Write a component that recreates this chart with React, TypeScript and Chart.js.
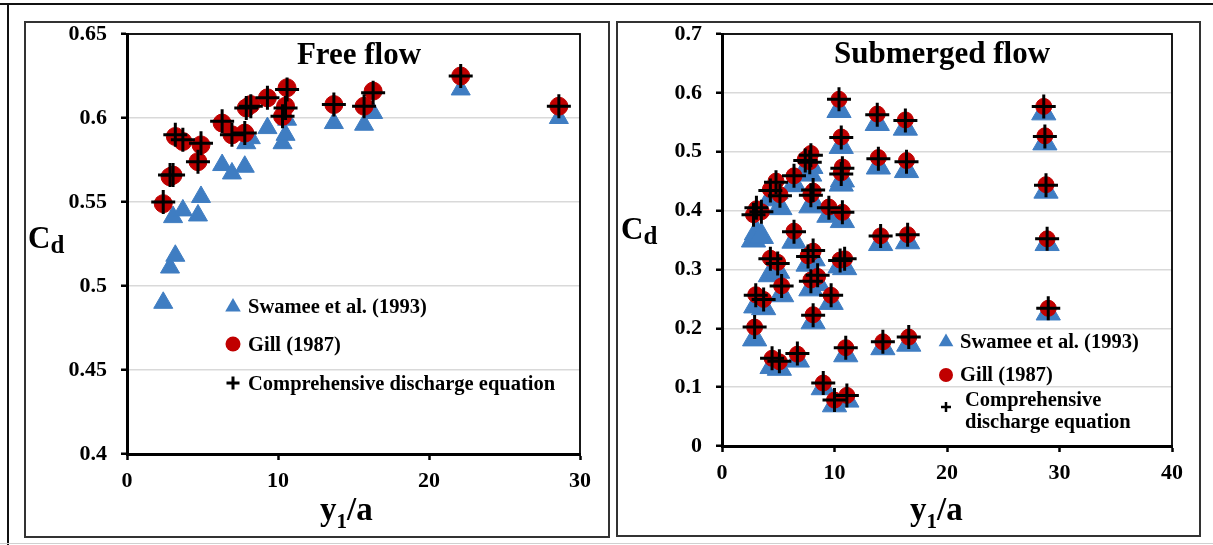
import React, { useEffect, useRef } from 'react';
import { Chart, registerables } from 'chart.js';

Chart.register(...registerables);

// ---- Free flow: y1/a and discharge coefficients ----
const FREE_RATIO = [2.4, 2.85, 3.05, 3.2, 3.7, 4.7, 4.9, 6.3, 6.95, 7.8, 7.9, 8.2, 9.3, 10.3, 10.5, 10.6, 13.7, 15.7, 16.3, 22.1, 28.6];
const FREE_SWAMEE = [0.49, 0.511, 0.541, 0.518, 0.545, 0.542, 0.553, 0.572, 0.567, 0.571, 0.585, 0.588, 0.594, 0.585, 0.59, 0.599, 0.597, 0.596, 0.603, 0.617, 0.6];
const FREE_GILL = [0.549, 0.565, 0.566, 0.589, 0.586, 0.574, 0.584, 0.597, 0.59, 0.591, 0.606, 0.608, 0.612, 0.601, 0.607, 0.618, 0.608, 0.607, 0.616, 0.625, 0.607];
const FREE_COMP = [0.55, 0.566, 0.566, 0.59, 0.587, 0.574, 0.585, 0.598, 0.59, 0.591, 0.606, 0.607, 0.612, 0.601, 0.606, 0.617, 0.608, 0.607, 0.615, 0.625, 0.607];

// ---- Submerged flow: y1/a and discharge coefficients ----
const SUB_RATIO = [2.8, 3.06, 3.5, 4.3, 4.8, 5.15, 6.4, 7.4, 7.9, 7.8, 8.1, 7.9, 9.5, 10.7, 10.4, 10.6, 10.7, 10.6, 13.8, 16.3, 13.9, 16.4, 6.4, 4.3, 4.95, 5.3, 3.0, 3.7, 2.9, 4.45, 5.1, 6.7, 7.65, 8.1, 7.9, 8.5, 9.7, 8.1, 10.5, 10.9, 11.0, 9.0, 10.0, 11.1, 14.1, 16.5, 14.3, 16.6, 28.6, 28.7, 28.8, 28.9, 29.0];
const SUB_SWAMEE = [0.35, 0.362, 0.356, 0.42, 0.432, 0.405, 0.444, 0.468, 0.475, 0.462, 0.412, 0.408, 0.392, 0.383, 0.57, 0.509, 0.452, 0.445, 0.548, 0.54, 0.474, 0.468, 0.348, 0.291, 0.297, 0.257, 0.238, 0.235, 0.182, 0.135, 0.132, 0.146, 0.309, 0.318, 0.267, 0.276, 0.244, 0.211, 0.306, 0.303, 0.155, 0.099, 0.07, 0.078, 0.344, 0.347, 0.167, 0.173, 0.566, 0.515, 0.433, 0.344, 0.226];
const SUB_GILL = [0.393, 0.403, 0.398, 0.436, 0.45, 0.427, 0.459, 0.487, 0.497, 0.483, 0.433, 0.427, 0.406, 0.397, 0.589, 0.525, 0.474, 0.464, 0.564, 0.554, 0.49, 0.485, 0.365, 0.319, 0.312, 0.272, 0.257, 0.249, 0.202, 0.149, 0.143, 0.156, 0.323, 0.331, 0.282, 0.288, 0.256, 0.223, 0.316, 0.318, 0.167, 0.107, 0.078, 0.086, 0.357, 0.359, 0.177, 0.185, 0.577, 0.527, 0.444, 0.352, 0.234];
const SUB_COMP = [0.393, 0.405, 0.398, 0.434, 0.448, 0.425, 0.459, 0.485, 0.494, 0.482, 0.435, 0.426, 0.405, 0.397, 0.589, 0.524, 0.472, 0.462, 0.563, 0.553, 0.488, 0.483, 0.364, 0.318, 0.31, 0.272, 0.256, 0.249, 0.202, 0.149, 0.144, 0.157, 0.322, 0.332, 0.28, 0.29, 0.256, 0.222, 0.315, 0.318, 0.167, 0.107, 0.078, 0.086, 0.357, 0.359, 0.177, 0.185, 0.577, 0.526, 0.443, 0.352, 0.234];

// ---- Axis ticks ----
const FREE_X_TICKS = [0, 10, 20, 30];
const FREE_Y_TICKS = [0.4, 0.45, 0.5, 0.55, 0.6, 0.65];
const SUB_X_TICKS = [0, 10, 20, 30, 40];
const SUB_Y_TICKS = [0, 0.1, 0.2, 0.3, 0.4, 0.5, 0.6, 0.7];

// ---- Series names ----
const SERIES_NAMES = ['Swamee et al. (1993)', 'Gill (1987)', 'Comprehensive discharge equation'];
const COMP_NAME_LINES = ['Comprehensive', 'discharge equation'];

const BLUE = '#3F7DC2';
const RED = '#C00000';
const SERIF = "'Liberation Serif', 'Times New Roman', serif";

type LegendText = { text: string; x: number; y: number };

type PanelSpec = {
  left: number;
  width: number;
  height: number;
  area: { left: number; top: number; right: number; bottom: number };
  title: string;
  titleX: number;
  titleY: number;
  ratio: number[];
  swamee: number[];
  gill: number[];
  comp: number[];
  xTicks: number[];
  yTicks: number[];
  triR: number;
  circR: number;
  crossR: number;
  cdX: number;
  cdY: number;
  y1aX: number;
  y1aY: number;
  legendMarkerX: number;
  legendMarkerY: number[];
  legendSizes: { tri: number; circ: number; cross: number; crossW: number };
  legendTexts: LegendText[];
};

const PAD_LEFT = 10;
const PAD_BOTTOM = 10;

function bold(size: number) {
  return `bold ${size}px ${SERIF}`;
}

function drawPlotFrame(chart: Chart) {
  const ctx = chart.ctx;
  const a = chart.chartArea;
  ctx.save();
  // thin frame around the plotting region
  ctx.strokeStyle = '#000';
  ctx.lineWidth = 1.8;
  ctx.strokeRect(a.left, a.top, a.right - a.left, a.bottom - a.top);
  ctx.restore();
}

function drawTexts(chart: Chart, spec: PanelSpec) {
  const ctx = chart.ctx;
  ctx.save();
  ctx.fillStyle = '#000';
  ctx.textBaseline = 'alphabetic';

  // panel title
  ctx.font = bold(31);
  ctx.textAlign = 'center';
  ctx.fillText(spec.title, spec.titleX, spec.titleY);

  // y-axis label C with subscript d
  ctx.textAlign = 'left';
  ctx.font = bold(31);
  ctx.fillText('C', spec.cdX, spec.cdY);
  const cw = ctx.measureText('C').width;
  ctx.font = bold(25);
  ctx.fillText('d', spec.cdX + cw, spec.cdY + 5);

  // x-axis label y with subscript 1, over a
  ctx.font = bold(33);
  ctx.fillText('y', spec.y1aX, spec.y1aY);
  let x = spec.y1aX + ctx.measureText('y').width;
  ctx.font = bold(21);
  ctx.fillText('1', x, spec.y1aY + 8);
  x += ctx.measureText('1').width;
  ctx.font = bold(33);
  ctx.fillText('/a', x, spec.y1aY);

  // legend markers
  const mx = spec.legendMarkerX;
  const [ty, cy, ky] = spec.legendMarkerY;
  const s = spec.legendSizes;
  ctx.fillStyle = BLUE;
  ctx.beginPath();
  ctx.moveTo(mx, ty - s.tri);
  ctx.lineTo(mx + s.tri * 0.866, ty + s.tri * 0.5);
  ctx.lineTo(mx - s.tri * 0.866, ty + s.tri * 0.5);
  ctx.closePath();
  ctx.fill();
  ctx.fillStyle = RED;
  ctx.beginPath();
  ctx.arc(mx, cy, s.circ, 0, Math.PI * 2);
  ctx.fill();
  ctx.strokeStyle = '#000';
  ctx.lineWidth = s.crossW;
  ctx.beginPath();
  ctx.moveTo(mx - s.cross, ky);
  ctx.lineTo(mx + s.cross, ky);
  ctx.moveTo(mx, ky - s.cross);
  ctx.lineTo(mx, ky + s.cross);
  ctx.stroke();

  // legend texts
  ctx.fillStyle = '#000';
  ctx.font = bold(20.5);
  for (const t of spec.legendTexts) ctx.fillText(t.text, t.x, t.y);
  ctx.restore();
}

function buildConfig(spec: PanelSpec): any {
  const tickFont = { family: SERIF, size: 22, weight: 'bold' as const };
  const toPoints = (ys: number[]) => spec.ratio.map((x, i) => ({ x, y: ys[i] }));
  return {
    type: 'scatter',
    data: {
      datasets: [
        {
          label: SERIES_NAMES[0],
          data: toPoints(spec.swamee),
          pointStyle: 'triangle',
          pointRadius: spec.triR,
          backgroundColor: BLUE,
          borderColor: BLUE,
          borderWidth: 1,
          order: 3,
          clip: false,
        },
        {
          label: SERIES_NAMES[1],
          data: toPoints(spec.gill),
          pointStyle: 'circle',
          pointRadius: spec.circR,
          backgroundColor: RED,
          borderColor: RED,
          borderWidth: 1,
          order: 2,
          clip: false,
        },
        {
          label: SERIES_NAMES[2],
          data: toPoints(spec.comp),
          pointStyle: 'cross',
          pointRadius: spec.crossR,
          backgroundColor: '#000',
          borderColor: '#000',
          borderWidth: 3,
          order: 1,
          clip: false,
        },
      ],
    },
    options: {
      animation: false,
      responsive: false,
      events: [],
      layout: {
        padding: {
          left: PAD_LEFT,
          top: spec.area.top,
          right: spec.width - spec.area.right,
          bottom: PAD_BOTTOM,
        },
      },
      plugins: { legend: { display: false }, tooltip: { enabled: false } },
      scales: {
        x: {
          type: 'linear',
          min: spec.xTicks[0],
          max: spec.xTicks[spec.xTicks.length - 1],
          afterBuildTicks: (s: any) => {
            s.ticks = spec.xTicks.map((v) => ({ value: v }));
          },
          afterFit: (s: any) => {
            s.height = spec.height - spec.area.bottom - PAD_BOTTOM;
          },
          grid: { drawOnChartArea: false, tickLength: 6, tickColor: '#000', tickWidth: 2.5 },
          border: { color: '#000', width: 3 },
          ticks: { font: tickFont, color: '#000', padding: 8, maxRotation: 0, callback: (v: number) => String(v) },
        },
        y: {
          type: 'linear',
          min: spec.yTicks[0],
          max: spec.yTicks[spec.yTicks.length - 1],
          afterBuildTicks: (s: any) => {
            s.ticks = spec.yTicks.map((v) => ({ value: v }));
          },
          afterFit: (s: any) => {
            s.width = spec.area.left - PAD_LEFT;
          },
          grid: { color: '#d9d9d9', lineWidth: 1.5, tickLength: 6, tickColor: '#000', tickWidth: 2.5 },
          border: { color: '#000', width: 3 },
          ticks: { font: tickFont, color: '#000', padding: 14, callback: (v: number) => String(v) },
        },
      },
    },
    plugins: [
      {
        id: 'panelDecor',
        beforeDatasetsDraw: (chart: Chart) => drawPlotFrame(chart),
        afterDraw: (chart: Chart) => drawTexts(chart, spec),
      },
    ],
  };
}

const FREE_PANEL: PanelSpec = {
  left: 0,
  width: 612,
  height: 545,
  area: { left: 127, top: 34, right: 580, bottom: 454 },
  title: 'Free flow',
  titleX: 359,
  titleY: 64,
  ratio: FREE_RATIO,
  swamee: FREE_SWAMEE,
  gill: FREE_GILL,
  comp: FREE_COMP,
  xTicks: FREE_X_TICKS,
  yTicks: FREE_Y_TICKS,
  triR: 11,
  circR: 9,
  crossR: 12,
  cdX: 28,
  cdY: 248,
  y1aX: 320,
  y1aY: 520,
  legendMarkerX: 233,
  legendMarkerY: [307, 344, 383],
  legendSizes: { tri: 9, circ: 7.5, cross: 6.5, crossW: 3 },
  legendTexts: [
    { text: SERIES_NAMES[0], x: 248, y: 313 },
    { text: SERIES_NAMES[1], x: 248, y: 351 },
    { text: SERIES_NAMES[2], x: 248, y: 390 },
  ],
};

const SUB_OFFSET = 612;
const SUB_PANEL: PanelSpec = {
  left: SUB_OFFSET,
  width: 601,
  height: 545,
  area: { left: 110, top: 34, right: 560, bottom: 446 },
  title: 'Submerged flow',
  titleX: 942 - SUB_OFFSET,
  titleY: 63,
  ratio: SUB_RATIO,
  swamee: SUB_SWAMEE,
  gill: SUB_GILL,
  comp: SUB_COMP,
  xTicks: SUB_X_TICKS,
  yTicks: SUB_Y_TICKS,
  triR: 14,
  circR: 8,
  crossR: 12,
  cdX: 621 - SUB_OFFSET,
  cdY: 239,
  y1aX: 910 - SUB_OFFSET,
  y1aY: 520,
  legendMarkerX: 946 - SUB_OFFSET,
  legendMarkerY: [342, 375, 407],
  legendSizes: { tri: 8.5, circ: 7, cross: 5, crossW: 2.5 },
  legendTexts: [
    { text: SERIES_NAMES[0], x: 960 - SUB_OFFSET, y: 348 },
    { text: SERIES_NAMES[1], x: 960 - SUB_OFFSET, y: 381 },
    { text: COMP_NAME_LINES[0], x: 965 - SUB_OFFSET, y: 406 },
    { text: COMP_NAME_LINES[1], x: 965 - SUB_OFFSET, y: 428 },
  ],
};

function Panel({ spec }: { spec: PanelSpec }) {
  const ref = useRef<HTMLCanvasElement>(null);
  useEffect(() => {
    if (!ref.current) return;
    const chart = new Chart(ref.current, buildConfig(spec));
    return () => chart.destroy();
  }, [spec]);
  return (
    <canvas
      ref={ref}
      width={spec.width}
      height={spec.height}
      style={{ position: 'absolute', left: spec.left, top: 0, width: spec.width, height: spec.height }}
    />
  );
}

export default function App() {
  return (
    <div style={{ position: 'absolute', left: 0, top: 0, width: 1213, height: 545, background: '#fff', overflow: 'hidden' }}>
      {/* outer frame */}
      <div style={{ position: 'absolute', left: 0, top: 3, width: 1213, height: 2, background: '#111' }} />
      <div style={{ position: 'absolute', left: 7, top: 3, width: 2, height: 542, background: '#111' }} />
      <div style={{ position: 'absolute', left: 0, top: 543, width: 1213, height: 1, background: '#d0d0d0' }} />
      {/* panel frames */}
      <div style={{ position: 'absolute', left: 24, top: 21, width: 586, height: 517, boxSizing: 'border-box', border: '2px solid #333' }} />
      <div style={{ position: 'absolute', left: 616, top: 21, width: 585, height: 516, boxSizing: 'border-box', border: '2px solid #333' }} />
      <Panel spec={FREE_PANEL} />
      <Panel spec={SUB_PANEL} />
    </div>
  );
}
